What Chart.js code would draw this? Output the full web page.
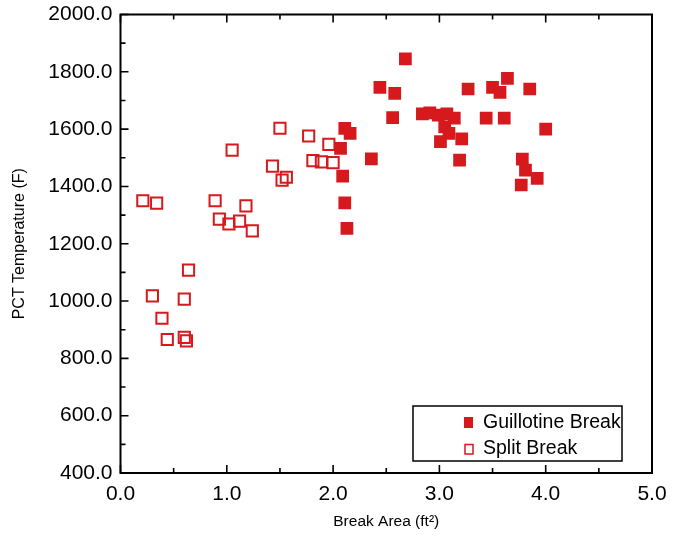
<!DOCTYPE html>
<html><head><meta charset="utf-8">
<script src="https://cdn.jsdelivr.net/npm/chart.js@4"></script>
<style>html,body{margin:0;padding:0;background:#fff}</style>
</head><body>
<canvas id="c" width="677" height="540"></canvas>
<script>
const seriesNames = ['Guillotine Break', 'Split Break'];
const guillotineX = [2.07,2.09,2.11,2.13,2.11,2.16,2.36,2.44,2.58,2.56,2.68,2.84,2.91,2.99,3.07,3.14,3.05,3.09,3.01,3.21,3.19,3.27,3.44,3.50,3.57,3.64,3.61,3.85,4.00,3.78,3.81,3.92,3.77];
const guillotineY = [1533,1436,1343,1254,1603,1585,1496,1746,1725,1640,1845,1653,1657,1649,1653,1638,1608,1585,1556,1566,1492,1740,1638,1746,1728,1777,1638,1740,1600,1495,1457,1428,1405];
const splitX = [0.21,0.34,0.30,0.39,0.44,0.60,0.60,0.62,0.64,0.89,0.93,1.02,1.05,1.12,1.18,1.24,1.43,1.50,1.52,1.56,1.77,1.81,1.89,2.00,1.96];
const splitY = [1350,1342,1018,940,866,1007,873,861,1108,1350,1286,1269,1527,1279,1332,1245,1471,1603,1422,1432,1576,1490,1486,1483,1547];
const xRange = [0, 5], xStep = 1;
const yRange = [400, 2000], yStep = 200;
const xTitle = 'Break Area (ft\u00B2)';
const yTitle = 'PCT Temperature (F)';

const RED = '#d5191d';
const FONT = "'Liberation Sans', Arial, sans-serif";
const toPts = (xs, ys) => xs.map((x, i) => ({x, y: ys[i]}));

const framePlugin = {
  id: 'frame',
  afterDatasetsDraw(chart) {
    const {ctx, chartArea: a, scales: {x, y}} = chart;
    ctx.save();
    ctx.strokeStyle = '#000';
    ctx.lineWidth = 2;
    ctx.strokeRect(a.left, a.top, a.right - a.left, a.bottom - a.top);
    ctx.lineWidth = 1.6;
    const xt = x.ticks.map(t => t.value), yt = y.ticks.map(t => t.value);
    ctx.beginPath();
    xt.forEach((v, i) => {
      const px = x.getPixelForValue(v);
      ctx.moveTo(px, a.bottom); ctx.lineTo(px, a.bottom - 8);
      ctx.moveTo(px, a.top); ctx.lineTo(px, a.top + 8);
      if (i < xt.length - 1) {
        const pm = x.getPixelForValue((v + xt[i + 1]) / 2);
        ctx.moveTo(pm, a.bottom); ctx.lineTo(pm, a.bottom - 5);
        ctx.moveTo(pm, a.top); ctx.lineTo(pm, a.top + 5);
      }
    });
    yt.forEach((v, i) => {
      const py = y.getPixelForValue(v);
      ctx.moveTo(a.left, py); ctx.lineTo(a.left + 8, py);
      if (i < yt.length - 1) {
        const pm = y.getPixelForValue((v + yt[i + 1]) / 2);
        ctx.moveTo(a.left, pm); ctx.lineTo(a.left + 5, pm);
      }
    });
    ctx.stroke();

    // legend box
    const bx = a.right - 239, by = a.bottom - 67, bw = 209, bh = 55;
    ctx.fillStyle = '#fff';
    ctx.fillRect(bx, by, bw, bh);
    ctx.lineWidth = 1.5;
    ctx.strokeRect(bx, by, bw, bh);
    ctx.font = '19.5px ' + FONT;
    ctx.textBaseline = 'middle';
    ctx.textAlign = 'left';
    ctx.fillStyle = RED;
    ctx.fillRect(bx + 51, by + 11, 9, 11);
    ctx.strokeStyle = RED;
    ctx.lineWidth = 1.5;
    ctx.strokeRect(bx + 52, by + 38.5, 8, 9.5);
    ctx.fillStyle = '#000';
    ctx.fillText(seriesNames[0], bx + 70, by + 17);
    ctx.fillText(seriesNames[1], bx + 70, by + 43);
    ctx.restore();
  }
};

new Chart(document.getElementById('c'), {
  type: 'scatter',
  data: {
    datasets: [
      {label: seriesNames[0], data: toPts(guillotineX, guillotineY), pointStyle: 'rect', pointRadius: 9, pointHoverRadius: 9, backgroundColor: RED, borderWidth: 0},
      {label: seriesNames[1], data: toPts(splitX, splitY), pointStyle: 'rect', pointRadius: 7.9, pointHoverRadius: 7.9, backgroundColor: 'rgba(0,0,0,0)', borderColor: RED, borderWidth: 2}
    ]
  },
  options: {
    responsive: false,
    animation: false,
    events: [],
    layout: {padding: {top: 14.5, right: 25, left: 0, bottom: 0}},
    plugins: {legend: {display: false}, tooltip: {enabled: false}},
    scales: {
      x: {
        type: 'linear', min: xRange[0], max: xRange[1],
        grid: {display: false, drawTicks: false}, border: {display: false},
        ticks: {stepSize: xStep, padding: 9, color: '#000', font: {family: FONT, size: 21}, callback: v => v.toFixed(1)},
        title: {display: true, text: xTitle, color: '#000', font: {family: FONT, size: 15.5}, padding: {top: 0, bottom: 9}},
        afterFit: s => { s.height = 67; }
      },
      y: {
        type: 'linear', min: yRange[0], max: yRange[1],
        grid: {display: false, drawTicks: false}, border: {display: false},
        ticks: {stepSize: yStep, padding: 8, color: '#000', font: {family: FONT, size: 21}, callback: v => v.toFixed(1)},
        title: {display: true, text: yTitle, color: '#000', font: {family: FONT, size: 16}, padding: {top: 10, bottom: 0}},
        afterFit: s => { s.width = 120.5; s.paddingTop = 10; s.paddingBottom = 10; }
      }
    }
  },
  plugins: [framePlugin]
});
</script>
</body></html>
